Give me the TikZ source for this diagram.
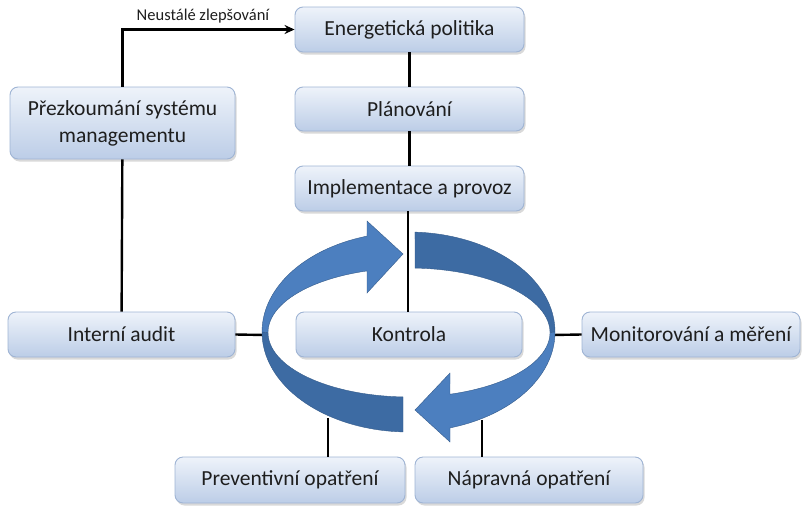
\documentclass[tikz,border=0pt]{standalone}
\usepackage{fontspec}
\setmainfont{Carlito}
\usetikzlibrary{shadows,arrows.meta}
\definecolor{boxtop}{HTML}{EEF3FA}
\definecolor{boxbot}{HTML}{BCCDE7}
\definecolor{boxline}{HTML}{9FB4D4}
\definecolor{txt}{HTML}{1E1E1E}
\definecolor{rlight}{HTML}{4C7FBF}
\definecolor{rdark}{HTML}{3D6BA3}
\begin{document}
\begin{tikzpicture}[x=1pt,y=-1pt,
  box/.style={draw=boxline, line width=0.9pt, rounded corners=8pt,
    top color=boxtop, bottom color=boxbot, inner sep=0pt, text=txt,
    font=\fontsize{21.5}{27}\selectfont, align=center,
    drop shadow={opacity=0.3, shadow xshift=1.5pt, shadow yshift=-2.5pt}},
  conn/.style={line width=2.4pt, black},
  rib/.style={draw=rdark!85!black, line width=0.4pt}]
\useasboundingbox (0,0) rectangle (805,506);

% boxes
\node[box, minimum width=229pt, minimum height=45pt] (pol) at (409.5,29.5) {Energetická politika};
\node[box, minimum width=229pt, minimum height=44pt] (plan) at (409.5,109) {Plánování};
\node[box, minimum width=229pt, minimum height=45pt] (impl) at (409.5,188.5) {Implementace a provoz};
\node[box, minimum width=225pt, minimum height=72pt] (prez) at (122.5,123) {Přezkoumání systému\\managementu};
\node[box, minimum width=227pt, minimum height=45pt] (audit) at (121.5,334.5) {Interní audit};
\node[box, minimum width=226pt, minimum height=45pt] (kon) at (409,334.5) {Kontrola};
\node[box, minimum width=218pt, minimum height=45pt] (mon) at (691,334.5) {Monitorování a měření};
\node[box, minimum width=230pt, minimum height=46pt] (prev) at (290,480) {Preventivní opatření};
\node[box, minimum width=228pt, minimum height=46pt] (nap) at (529,480) {Nápravná opatření};

% label
\node[font=\fontsize{16.5}{20}\selectfont, text=txt] (lab) at (203,16) {Neustálé zlepšování};

% ribbon attachment points
\coordinate (rl) at (265,335);
\coordinate (rr) at (552,335);
\coordinate (rbl) at (328,418);
\coordinate (rbr) at (482,420);

% connectors
\draw[conn, -{Stealth[length=10pt,width=9pt]}] (prez.north) -- (prez.north |- pol.west) -- (pol.west);
\draw[conn] (pol) -- (plan);
\draw[conn] (plan) -- (impl);
\draw[conn] (impl.south -| 408,0) -- (kon.north -| 408,0);
\draw[conn] (prez) -- (audit);
\draw[conn] (audit.east) -- (rl);
\draw[conn] (mon.west) -- (rr);
\draw[conn] (rbl) -- (rbl |- prev.north);
\draw[conn] (rbr) -- (rbr |- nap.north);

% ribbon: left arrow
\filldraw[rib, fill=rdark]
  plot[domain=267.85:180, samples=40] ({408.5+146.5*cos(\x)},{332-100*sin(\x)})
  -- plot[domain=180:267.56, samples=40] ({409+141*cos(\x)},{332.5-64.5*sin(\x)}) -- cycle;
\filldraw[rib, fill=rlight]
  plot[domain=180:106.46, samples=40] ({408.5+146.5*cos(\x)},{332-100*sin(\x)})
  -- (367,221) -- (403,254) -- (367,293)
  -- plot[domain=107.33:180, samples=40] ({409+141*cos(\x)},{332.5-64.5*sin(\x)}) -- cycle;
% ribbon: right arrow
\filldraw[rib, fill=rdark]
  plot[domain=87.46:0, samples=40] ({408.5+146.5*cos(\x)},{332-100*sin(\x)})
  -- plot[domain=0:87.56, samples=40] ({409+141*cos(\x)},{332.5-64.5*sin(\x)}) -- cycle;
\filldraw[rib, fill=rlight]
  plot[domain=0:-73.54, samples=40] ({408.5+146.5*cos(\x)},{332-100*sin(\x)})
  -- (450,442) -- (415,410) -- (450,373)
  -- plot[domain=-73.1:0, samples=40] ({409+141*cos(\x)},{332.5-64.5*sin(\x)}) -- cycle;
\end{tikzpicture}
\end{document}
